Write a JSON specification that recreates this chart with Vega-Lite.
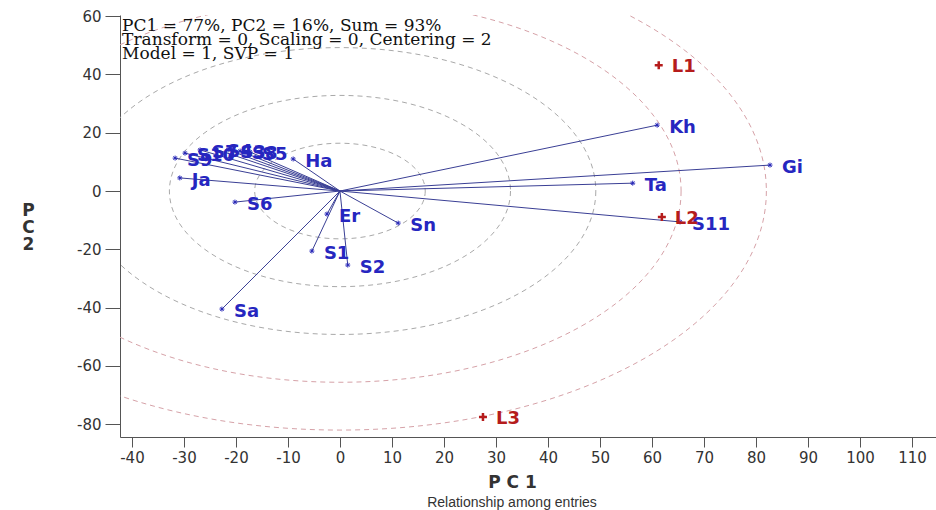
{
  "$schema": "https://vega.github.io/schema/vega-lite/v6.json",
  "width": 816,
  "height": 422,
  "autosize": "none",
  "padding": {"left": 120, "top": 15, "right": 0, "bottom": 73},
  "background": "white",
  "config": {
    "view": {"stroke": null},
    "axis": {
      "domainColor": "#555555",
      "tickColor": "#555555",
      "labelFont": "DejaVu Sans",
      "labelFontSize": 15,
      "labelColor": "#333333",
      "grid": false,
      "titleFont": "DejaVu Sans",
      "titleFontWeight": "bold",
      "titleFontSize": 17,
      "titleColor": "#333333",
      "labelOverlap": false,
      "labelBound": false,
      "labelFlush": false,
      "labelExpr": "datum.value < 0 ? '-' + abs(datum.value) : '' + datum.value"
    }
  },
  "title": {
    "text": "Relationship among entries",
    "orient": "bottom",
    "anchor": "middle",
    "dx": -16,
    "offset": 6,
    "font": "Liberation Sans",
    "fontSize": 14,
    "fontWeight": "normal",
    "color": "#333333"
  },
  "datasets": {
    "rings": [{"r": 16.4}, {"r": 32.8}, {"r": 49.2}, {"r": 65.6}, {"r": 82.0}],
    "entries": [
      {"name": "Kh", "x": 61.0, "y": 22.6},
      {"name": "Gi", "x": 82.7, "y": 8.9},
      {"name": "Ta", "x": 56.3, "y": 2.7},
      {"name": "S11", "x": 65.4, "y": -10.6},
      {"name": "Ha", "x": -9.0, "y": 11.0},
      {"name": "Ja", "x": -30.8, "y": 4.5},
      {"name": "S9", "x": -31.7, "y": 11.3},
      {"name": "S10", "x": -29.8, "y": 13.0},
      {"name": "S7", "x": -26.9, "y": 14.1},
      {"name": "S4", "x": -24.0, "y": 14.4},
      {"name": "S3", "x": -21.5, "y": 14.1},
      {"name": "S8", "x": -19.2, "y": 13.7},
      {"name": "S5", "x": -17.3, "y": 13.4},
      {"name": "S6", "x": -20.2, "y": -3.8},
      {"name": "Er", "x": -2.5, "y": -7.9},
      {"name": "S1", "x": -5.4, "y": -20.6},
      {"name": "S2", "x": 1.5, "y": -25.4},
      {"name": "Sn", "x": 11.2, "y": -11.0},
      {"name": "Sa", "x": -22.7, "y": -40.5}
    ],
    "testers": [
      {"name": "L1", "x": 61.3, "y": 43.2},
      {"name": "L2", "x": 61.9, "y": -8.9},
      {"name": "L3", "x": 27.5, "y": -77.5}
    ],
    "note": [{"id": 1}]
  },
  "layer": [
    {
      "data": {"name": "rings"},
      "mark": {
        "type": "point",
        "shape": "M1,0C1,0.3096 0.5523,0.5606 0,0.5606C-0.5523,0.5606 -1,0.3096 -1,0C-1,-0.3096 -0.5523,-0.5606 0,-0.5606C0.5523,-0.5606 1,-0.3096 1,0Z",
        "filled": false,
        "opacity": 1,
        "strokeWidth": 1,
        "strokeDash": [5, 4],
        "clip": true
      },
      "encoding": {
        "x": {
          "datum": 0,
          "type": "quantitative",
          "scale": {"domain": [-42.3, 114.62], "nice": false, "zero": false},
          "axis": {
            "values": [-40, -30, -20, -10, 0, 10, 20, 30, 40, 50, 60, 70, 80, 90, 100, 110],
            "tickSize": 10,
            "labelPadding": 3,
            "title": "P C 1",
            "titleX": 392,
            "titleY": 45,
            "titleAlign": "center",
            "titleBaseline": "middle"
          }
        },
        "y": {
          "datum": 0,
          "type": "quantitative",
          "scale": {"domain": [-84.4, 60.4], "nice": false, "zero": false},
          "axis": {
            "values": [-80, -70, -60, -50, -40, -30, -20, -10, 0, 10, 20, 30, 40, 50, 60],
            "tickSize": 15,
            "labelPadding": 4,
            "title": ["P", "C", "2"],
            "titleAngle": 0,
            "titleX": -92,
            "titleY": 195,
            "titleAlign": "center",
            "titleBaseline": "middle",
            "titleLineHeight": 17
          }
        },
        "size": {
          "field": "r",
          "type": "quantitative",
          "scale": {"type": "pow", "exponent": 2, "domain": [0, 82], "range": [0, 727268]},
          "legend": null
        },
        "color": {
          "condition": {"test": "datum.r > 60", "value": "#d6a2a8"},
          "value": "#a9a9a9"
        }
      }
    },
    {
      "mark": {"type": "rule", "color": "#555555", "strokeWidth": 1},
      "encoding": {"y": {"datum": 60.4, "type": "quantitative"}}
    },
    {
      "mark": {"type": "rule", "color": "#222222", "strokeWidth": 1, "strokeDash": [4, 3]},
      "encoding": {"y": {"datum": 0, "type": "quantitative"}}
    },
    {
      "mark": {"type": "rule", "color": "#333333", "strokeWidth": 2, "strokeDash": [2, 2]},
      "encoding": {"x": {"datum": 0, "type": "quantitative"}}
    },
    {
      "data": {"name": "entries"},
      "mark": {"type": "rule", "color": "#3a3f95", "strokeWidth": 1},
      "encoding": {
        "x": {"field": "x", "type": "quantitative"},
        "y": {"field": "y", "type": "quantitative"},
        "x2": {"datum": 0},
        "y2": {"datum": 0}
      }
    },
    {
      "data": {"name": "entries"},
      "mark": {
        "type": "point",
        "shape": "M-1,0L1,0M0,-1L0,1M-0.7,-0.7L0.7,0.7M-0.7,0.7L0.7,-0.7",
        "filled": false,
        "opacity": 1,
        "size": 25,
        "strokeWidth": 1,
        "color": "#2a2ab8"
      },
      "encoding": {
        "x": {"field": "x", "type": "quantitative"},
        "y": {"field": "y", "type": "quantitative"}
      }
    },
    {
      "data": {"name": "entries"},
      "mark": {
        "type": "text",
        "align": "left",
        "baseline": "middle",
        "dx": 12,
        "dy": 3,
        "font": "DejaVu Sans",
        "fontWeight": "bold",
        "fontSize": 18,
        "color": "#2626c0"
      },
      "encoding": {
        "x": {"field": "x", "type": "quantitative"},
        "y": {"field": "y", "type": "quantitative"},
        "text": {"field": "name"}
      }
    },
    {
      "data": {"name": "testers"},
      "mark": {
        "type": "point",
        "shape": "M-1,0L1,0M0,-1L0,1",
        "filled": false,
        "opacity": 1,
        "size": 64,
        "strokeWidth": 2.5,
        "color": "#b51c1c"
      },
      "encoding": {
        "x": {"field": "x", "type": "quantitative"},
        "y": {"field": "y", "type": "quantitative"}
      }
    },
    {
      "data": {"name": "testers"},
      "mark": {
        "type": "text",
        "align": "left",
        "baseline": "middle",
        "dx": 13,
        "dy": 2,
        "font": "DejaVu Sans",
        "fontWeight": "bold",
        "fontSize": 18,
        "color": "#b51c1c"
      },
      "encoding": {
        "x": {"field": "x", "type": "quantitative"},
        "y": {"field": "y", "type": "quantitative"},
        "text": {"field": "name"}
      }
    },
    {
      "data": {"name": "note"},
      "mark": {
        "type": "text",
        "text": ["PC1 = 77%, PC2 = 16%, Sum = 93%", "Transform = 0, Scaling = 0, Centering = 2", "Model = 1, SVP = 1"],
        "align": "left",
        "baseline": "top",
        "font": "DejaVu Serif",
        "fontSize": 17,
        "lineHeight": 14,
        "color": "#111111"
      },
      "encoding": {
        "x": {"datum": -41.9, "type": "quantitative"},
        "y": {"datum": 59.3, "type": "quantitative"}
      }
    }
  ]
}
